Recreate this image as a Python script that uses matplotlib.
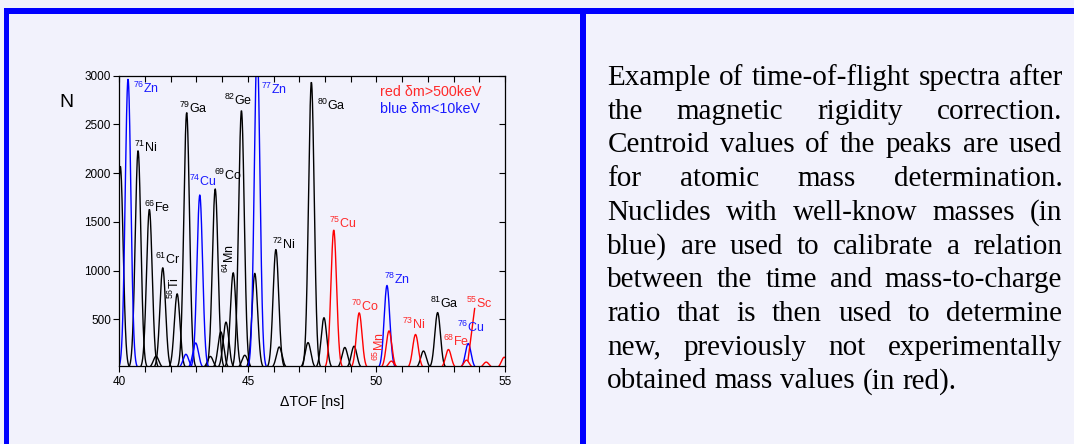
import matplotlib
matplotlib.use('Agg')
import matplotlib.pyplot as plt
import numpy as np
from matplotlib.patches import Rectangle
from matplotlib.ticker import MultipleLocator

plt.rcParams['font.family'] = ['Liberation Sans', 'DejaVu Sans']
plt.rcParams['mathtext.fontset'] = 'custom'
plt.rcParams['mathtext.rm'] = 'Liberation Sans'
plt.rcParams['mathtext.it'] = 'Liberation Sans:italic'
plt.rcParams['mathtext.bf'] = 'Liberation Sans:bold'

BG = '#F2F2FC'
BORDER = '#0000FF'
W, H = 1074, 444

# ---------------- data ----------------
black_centers = [40.04, 40.73, 41.17, 41.43, 41.69, 42.25, 42.62, 43.54, 43.73,
                 43.95, 44.15, 44.43, 44.75, 44.88, 45.27, 46.09, 46.22, 47.34,
                 47.47, 47.96, 48.77, 49.13, 51.83, 52.38]
black_heights = [2070, 2230, 1627, 120, 1027, 760, 2620, 118, 1836,
                 370, 470, 976, 2640, 130, 970, 1216, 215, 260,
                 2932, 515, 210, 223, 174, 568]

blue_centers = [40.34, 42.59, 42.97, 43.13, 45.36, 50.41, 53.57]
blue_heights = [2965, 140, 256, 1774, 3300, 846, 250]

red_centers = [48.34, 49.33, 50.49, 50.58, 51.52, 52.80, 53.50, 54.27, 54.97]
red_heights = [1415, 565, 380, 70, 343, 189, 80, 60, 110]

label_texts = ['76|Zn', '71|Ni', '66|Fe', '61|Cr', '56|Ti', '79|Ga', '74|Cu', '69|Co',
               '64|Mn', '82|Ge', '77|Zn', '72|Ni', '80|Ga', '75|Cu', '70|Co',
               '65|Mn', '78|Zn', '73|Ni', '81|Ga', '68|Fe', '76|Cu', '55|Sc']
label_x = [40.52, 40.57, 40.96, 41.38, 42.16, 42.33, 42.72, 43.68,
           44.30, 44.07, 45.53, 45.92, 47.69, 48.16, 49.00,
           50.10, 50.28, 51.01, 52.10, 52.59, 53.15, 53.50]
label_y = [2819, 2219, 1602, 1072, 818, 2620, 1867, 1928,
           1127, 2699, 2809, 1216, 2647, 1435, 585,
           215, 859, 404, 620, 222, 365, 620]
label_colors = ['blue', 'black', 'black', 'black', 'black', 'black', 'blue', 'black',
                'black', 'black', 'blue', 'black', 'black', 'red', 'red',
                'red', 'blue', 'red', 'black', 'red', 'blue', 'red']
label_rot = [0, 0, 0, 0, 90, 0, 0, 0,
             90, 0, 0, 0, 0, 0, 0,
             90, 0, 0, 0, 0, 0, 0]

sc_leader_x = [53.56, 53.82]
sc_leader_y = [78, 610]

x_major = [40, 45, 50, 55]
y_ticks = [500, 1000, 1500, 2000, 2500, 3000]

paragraph_lines = [
    "Example of time-of-flight spectra after",
    "the magnetic rigidity correction.",
    "Centroid values of the peaks are used",
    "for atomic mass determination.",
    "Nuclides with well-know masses (in",
    "blue) are used to calibrate a relation",
    "between the time and mass-to-charge",
    "ratio that is then used to determine",
    "new, previously not experimentally",
    "obtained mass values (in red).",
]

COLORS = {'black': '#000000', 'blue': '#0000FF', 'red': '#FF0000'}
TEXT_COLORS = {'black': '#000000', 'blue': '#1A1AFF', 'red': '#FF2A2A'}
SIGMA = 0.11

# ---------------- figure ----------------
fig = plt.figure(figsize=(W / 100, H / 100), dpi=100, facecolor=BG)

def px_rect(x0, y0, x1, y1, color):
    fig.patches.append(Rectangle((x0 / W, 1 - y1 / H), (x1 - x0) / W, (y1 - y0) / H,
                                 transform=fig.transFigure, facecolor=color,
                                 edgecolor='none', zorder=0))

px_rect(4, 8, W, 14, BORDER)
px_rect(4, 8, 9, H, BORDER)
px_rect(580, 8, 586, H, BORDER)

ax_l, ax_r, ax_t, ax_b = 119.3, 505.0, 75.7, 366.0
ax = fig.add_axes([ax_l / W, 1 - ax_b / H, (ax_r - ax_l) / W, (ax_b - ax_t) / H])
ax.set_facecolor(BG)

xs = np.linspace(39.0, 56.0, 6000)

def draw_peaks(centers, heights, color):
    for c, h in zip(centers, heights):
        m = np.abs(xs - c) < 0.65
        y = h * np.exp(-0.5 * ((xs[m] - c) / SIGMA) ** 2)
        ax.plot(xs[m], y, color=COLORS[color], lw=1.0, solid_joinstyle='miter')

draw_peaks(black_centers, black_heights, 'black')
draw_peaks(blue_centers, blue_heights, 'blue')
draw_peaks(red_centers, red_heights, 'red')

ax.plot(sc_leader_x, sc_leader_y, color=COLORS['red'], lw=1.0)

LBL_FS = 9
for t, x, y, c, r in zip(label_texts, label_x, label_y, label_colors, label_rot):
    num, sym = t.split('|')
    s = r'$^{\mathrm{%s}}$%s' % (num, sym)
    if r == 0:
        ax.text(x, y, s, color=TEXT_COLORS[c], fontsize=LBL_FS, ha='left', va='baseline')
    else:
        ax.text(x, y, s, color=TEXT_COLORS[c], fontsize=LBL_FS, ha='center', va='center',
                rotation=90)

ax.set_xlim(40, 55)
ax.set_ylim(20, 3000)
ax.set_xticks(x_major)
ax.xaxis.set_minor_locator(MultipleLocator(1))
ax.set_yticks(y_ticks)
ax.tick_params(axis='both', which='both', labelsize=8.5, width=0.8, color='black')
ax.tick_params(axis='x', which='both', direction='out', length=4, pad=3)
ax.tick_params(axis='y', which='both', direction='out', length=4, pad=2)
ax.tick_params(axis='x', which='both', top=True, labeltop=False)
ax.tick_params(axis='y', which='both', right=True, labelright=False)
# ticks on top/right point inwards
for tl in ax.xaxis.get_ticklines(minor=False)[1::2] + ax.xaxis.get_ticklines(minor=True)[1::2]:
    tl.set_marker(3)
for tl in ax.yaxis.get_ticklines(minor=False)[1::2]:
    tl.set_marker(0)
for sp in ax.spines.values():
    sp.set_linewidth(0.9)

ax.text(-0.137, 0.909, 'N', transform=ax.transAxes, fontsize=14, ha='center', va='center')
ax.text(0.5, -0.125, '\u0394TOF [ns]', transform=ax.transAxes, fontsize=10.2, ha='center', va='center')
ax.text(0.676, 0.945, 'red \u03b4m>500keV', transform=ax.transAxes, fontsize=10.3,
        color=TEXT_COLORS['red'], ha='left', va='center')
ax.text(0.676, 0.885, 'blue \u03b4m<10keV', transform=ax.transAxes, fontsize=10.3,
        color=TEXT_COLORS['blue'], ha='left', va='center')

# ---------------- justified paragraph ----------------
PFS = 21
renderer = fig.canvas.get_renderer()
x_left, x_right = 607.3, 1062.3
base0, dy = 85.0, 33.7
sp = fig.text(0, 0, 'a a', fontsize=PFS, family='Liberation Serif')
sp2 = fig.text(0, 0, 'aa', fontsize=PFS, family='Liberation Serif')
space_w = sp.get_window_extent(renderer).width - sp2.get_window_extent(renderer).width
sp.remove(); sp2.remove()
for i, line in enumerate(paragraph_lines):
    words = line.split()
    yb = 1 - (base0 + i * dy) / H
    texts = [fig.text(0, yb, w, fontsize=PFS, family='Liberation Serif', va='baseline',
                      ha='left') for w in words]
    widths = [t.get_window_extent(renderer).width for t in texts]
    if i == len(paragraph_lines) - 1 or len(words) == 1:
        gap = space_w
    else:
        gap = (x_right - x_left - sum(widths)) / (len(words) - 1)
    x = x_left
    for t, w in zip(texts, widths):
        t.set_x(x / W)
        x += w + gap

fig.savefig('out.png', dpi=100, facecolor=BG)
